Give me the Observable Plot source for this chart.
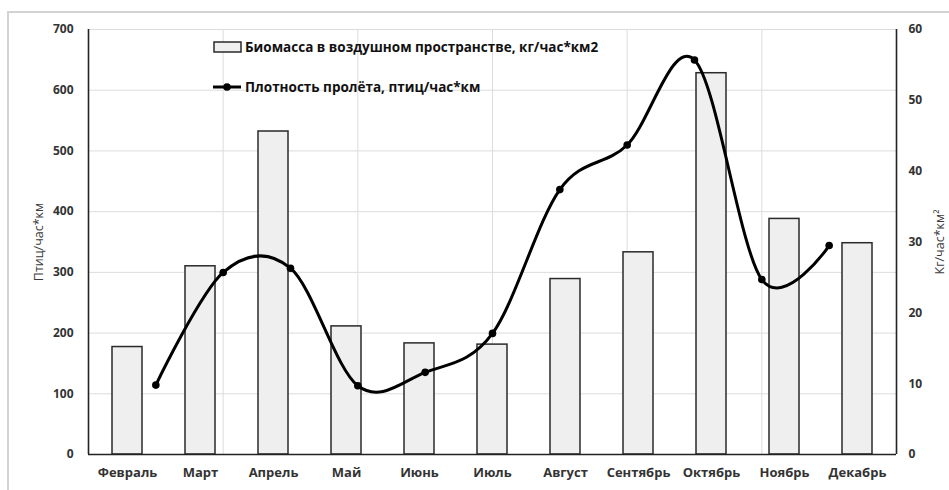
<!DOCTYPE html>
<html>
<head>
<meta charset="utf-8">
<script src="https://cdn.jsdelivr.net/npm/d3@7"></script>
<script src="https://cdn.jsdelivr.net/npm/@observablehq/plot@0.6"></script>
<style>
  body { margin: 0; background: #fff; font-family: "Open Sans", sans-serif; }
  #wrap { position: relative; width: 949px; height: 490px; overflow: hidden; }
  #wrap svg { position: absolute; left: 0; top: 0; background: transparent; }
  #border { position: absolute; left: 7px; top: 11px; width: 1000px; height: 600px; border: 2px solid #d3d3d3; }
  .legend { position: absolute; left: 213px; font-size: 13.5px; font-weight: 700; color: #111; display: flex; align-items: center; white-space: nowrap; }
</style>
</head>
<body>
<div id="wrap">
  <div id="border"></div>
</div>
<script>
// ---- data ----
const months = ["Февраль","Март","Апрель","Май","Июнь","Июль","Август","Сентябрь","Октябрь","Ноябрь","Декабрь"];
const biomass = [177, 310, 532, 211, 183, 181, 289, 333, 628, 388, 348];
const densityX = [1, 2, 3, 4, 5, 6, 7, 8, 9, 10, 11];
const density = [9.8, 25.7, 26.3, 9.7, 11.6, 17.1, 37.4, 43.7, 55.7, 24.7, 29.5];
const leftTicks = [0, 100, 200, 300, 400, 500, 600, 700];
const rightTicks = [0, 10, 20, 30, 40, 50, 60];
const gridXTicks = [2, 4, 6, 8, 10];
const xDomain = [0, 12];
const leftTitle = "Птиц/час*км";
const rightTitle = "Кг/час*км²";
const legendBars = "Биомасса в воздушном пространстве, кг/час*км2";
const legendLine = "Плотность пролёта, птиц/час*км";

const barData = months.map((m, i) => ({month: m, value: biomass[i]}));
const lineData = densityX.map((x, i) => ({x, y: density[i]}));

const common = {
  width: 949, height: 490,
  marginLeft: 88, marginRight: 53, marginTop: 29, marginBottom: 36,
  style: {fontFamily: "Open Sans, sans-serif", color: "#333", background: "transparent"}
};

// layer 1: gridlines and axis lines
const gridPlot = Plot.plot({
  ...common,
  x: {domain: xDomain, axis: null},
  y: {domain: [0, 700], axis: null},
  marks: [
    Plot.ruleX(gridXTicks, {stroke: "#dcdcdc", strokeWidth: 1}),
    Plot.ruleY(leftTicks.slice(1), {stroke: "#dcdcdc", strokeWidth: 1}),
    Plot.ruleX(xDomain, {stroke: "#222", strokeWidth: 1.6})
  ]
});

// layer 2: bars, category axis, left axis
const barPlot = Plot.plot({
  ...common,
  x: {domain: months, paddingInner: 0.59, paddingOuter: 0.295},
  y: {domain: [0, 700]},
  marks: [
    Plot.barY(barData, {x: "month", y: "value", fill: "#efefef", stroke: "#2a2a2a", strokeWidth: 1.5}),
    Plot.ruleY([0], {stroke: "#222", strokeWidth: 1.6}),
    Plot.axisX({tickSize: 0, tickPadding: 13, fontSize: 13, fontWeight: 700, label: null}),
    Plot.axisY({ticks: leftTicks, tickSize: 0, tickPadding: 15, fontSize: 12, fontWeight: 700, label: null}),
    Plot.text([leftTitle], {frameAnchor: "left", textAnchor: "middle", rotate: -90, dx: -50, fontSize: 12.5, fill: "#3a3a3a"})
  ]
});

// layer 3: smoothed line on secondary axis
const linePlot = Plot.plot({
  ...common,
  x: {domain: xDomain, axis: null},
  y: {domain: [0, 60]},
  marks: [
    Plot.line(lineData, {x: "x", y: "y", curve: "cardinal", tension: 0, stroke: "#000", strokeWidth: 3}),
    Plot.dot(lineData, {x: "x", y: "y", r: 3.8, fill: "#000", stroke: "none"}),
    Plot.axisY({anchor: "right", ticks: rightTicks, tickSize: 0, tickPadding: 12, fontSize: 12, fontWeight: 700, label: null}),
    Plot.text([rightTitle], {frameAnchor: "right", textAnchor: "middle", rotate: -90, dx: 43, fontSize: 12.5, fill: "#3a3a3a"})
  ]
});

const wrap = document.getElementById("wrap");
wrap.appendChild(gridPlot);
wrap.appendChild(barPlot);
wrap.appendChild(linePlot);

// legend
const l1 = document.createElement("div");
l1.className = "legend";
l1.style.top = "38px";
l1.innerHTML = `<svg width="30" height="14" style="position:static;margin-right:2px"><rect x="1" y="2" width="27" height="10" fill="#efefef" stroke="#2a2a2a" stroke-width="1.5"/></svg><span></span>`;
l1.querySelector("span").textContent = legendBars;
wrap.appendChild(l1);

const l2 = document.createElement("div");
l2.className = "legend";
l2.style.top = "78px";
l2.innerHTML = `<svg width="30" height="16" style="position:static;margin-right:2px"><line x1="0" y1="8" x2="28" y2="8" stroke="#000" stroke-width="3"/><circle cx="14" cy="8" r="3.8" fill="#000"/></svg><span></span>`;
l2.querySelector("span").textContent = legendLine;
wrap.appendChild(l2);
</script>
</body>
</html>
